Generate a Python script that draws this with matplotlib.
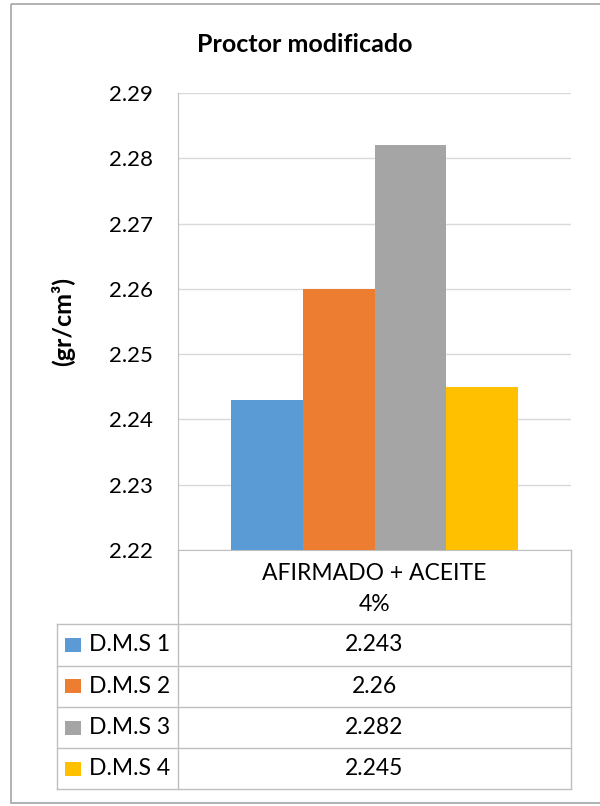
import matplotlib
matplotlib.use("Agg")
import matplotlib.pyplot as plt
from matplotlib.patches import Rectangle
from matplotlib.lines import Line2D

plt.rcParams['font.family'] = ['Lato', 'DejaVu Sans']

# Data
category = "AFIRMADO + ACEITE\n4%"
series = ["D.M.S 1", "D.M.S 2", "D.M.S 3", "D.M.S 4"]
values = [2.243, 2.26, 2.282, 2.245]
value_labels = ["2.243", "2.26", "2.282", "2.245"]
colors = ["#5b9bd5", "#ed7d31", "#a5a5a5", "#ffc000"]
yticks = [2.22, 2.23, 2.24, 2.25, 2.26, 2.27, 2.28, 2.29]

W, H = 600, 806
fig = plt.figure(figsize=(W / 100, H / 100), dpi=100)

def fx(px):
    return px / W

def fy(py):
    return 1 - py / H

grid_c = "#d9d9d9"
line_c = "#bfbfbf"

# Plot area
left, right, top, bottom = 178, 571, 93, 550
ax = fig.add_axes([fx(left), fy(bottom), fx(right) - fx(left), fy(top) - fy(bottom)])
ax.set_ylim(yticks[0], yticks[-1])
ax.set_xlim(-0.5, 0.5)
bw = 0.182
for i, (v, c) in enumerate(zip(values, colors)):
    ax.bar((i - 1.5) * bw, v - yticks[0], bottom=yticks[0], width=bw, color=c,
           zorder=3)
ax.set_yticks(yticks)
ax.set_yticklabels([f"{t:.2f}" for t in yticks], fontsize=16)
ax.tick_params(axis='y', length=0, pad=18)
ax.set_xticks([])
ax.yaxis.grid(True, color=grid_c, linewidth=1)
ax.set_axisbelow(True)
for s in ['top', 'right']:
    ax.spines[s].set_visible(False)
ax.spines['left'].set_color(line_c)
ax.spines['bottom'].set_color(line_c)

# Overlay in pixel coordinates for the frame and data table
ov = fig.add_axes([0, 0, 1, 1], facecolor='none')
ov.set_xlim(0, W)
ov.set_ylim(H, 0)
ov.axis('off')

ov.add_patch(Rectangle((11, 4), 700, 799, fill=False, edgecolor="#a6a6a6",
                       linewidth=1.2))

ov.text(305, 45, "Proctor modificado", ha='center', va='center',
        fontsize=18, fontweight='bold')
ov.text(63, 322, "(gr/cm³)", ha='center', va='center', rotation=90,
        fontsize=18, fontweight='bold')

# Table grid
rows = [624, 665.5, 707, 748, 789]
tab_l, col_split, tab_r = 57, 178, 571
ov.add_line(Line2D([col_split, col_split], [bottom, rows[-1]], color=line_c, lw=1))
ov.add_line(Line2D([tab_r, tab_r], [bottom, rows[-1]], color=line_c, lw=1))
ov.add_line(Line2D([tab_l, tab_l], [rows[0], rows[-1]], color=line_c, lw=1))
for r in rows:
    ov.add_line(Line2D([tab_l, tab_r], [r, r], color=line_c, lw=1))

cx = (col_split + tab_r) / 2
ov.text(cx, 589, category, ha='center', va='center',
        fontsize=16.5, linespacing=1.55)

for i, (name, lab, c) in enumerate(zip(series, value_labels, colors)):
    yc = (rows[i] + rows[i + 1]) / 2
    ov.add_patch(Rectangle((65, yc - 7), 16, 14, facecolor=c, edgecolor='none'))
    ov.text(89, yc, name, ha='left', va='center', fontsize=16.5)
    ov.text(cx, yc, lab, ha='center', va='center', fontsize=16.5)

fig.savefig("out.png", dpi=100)
